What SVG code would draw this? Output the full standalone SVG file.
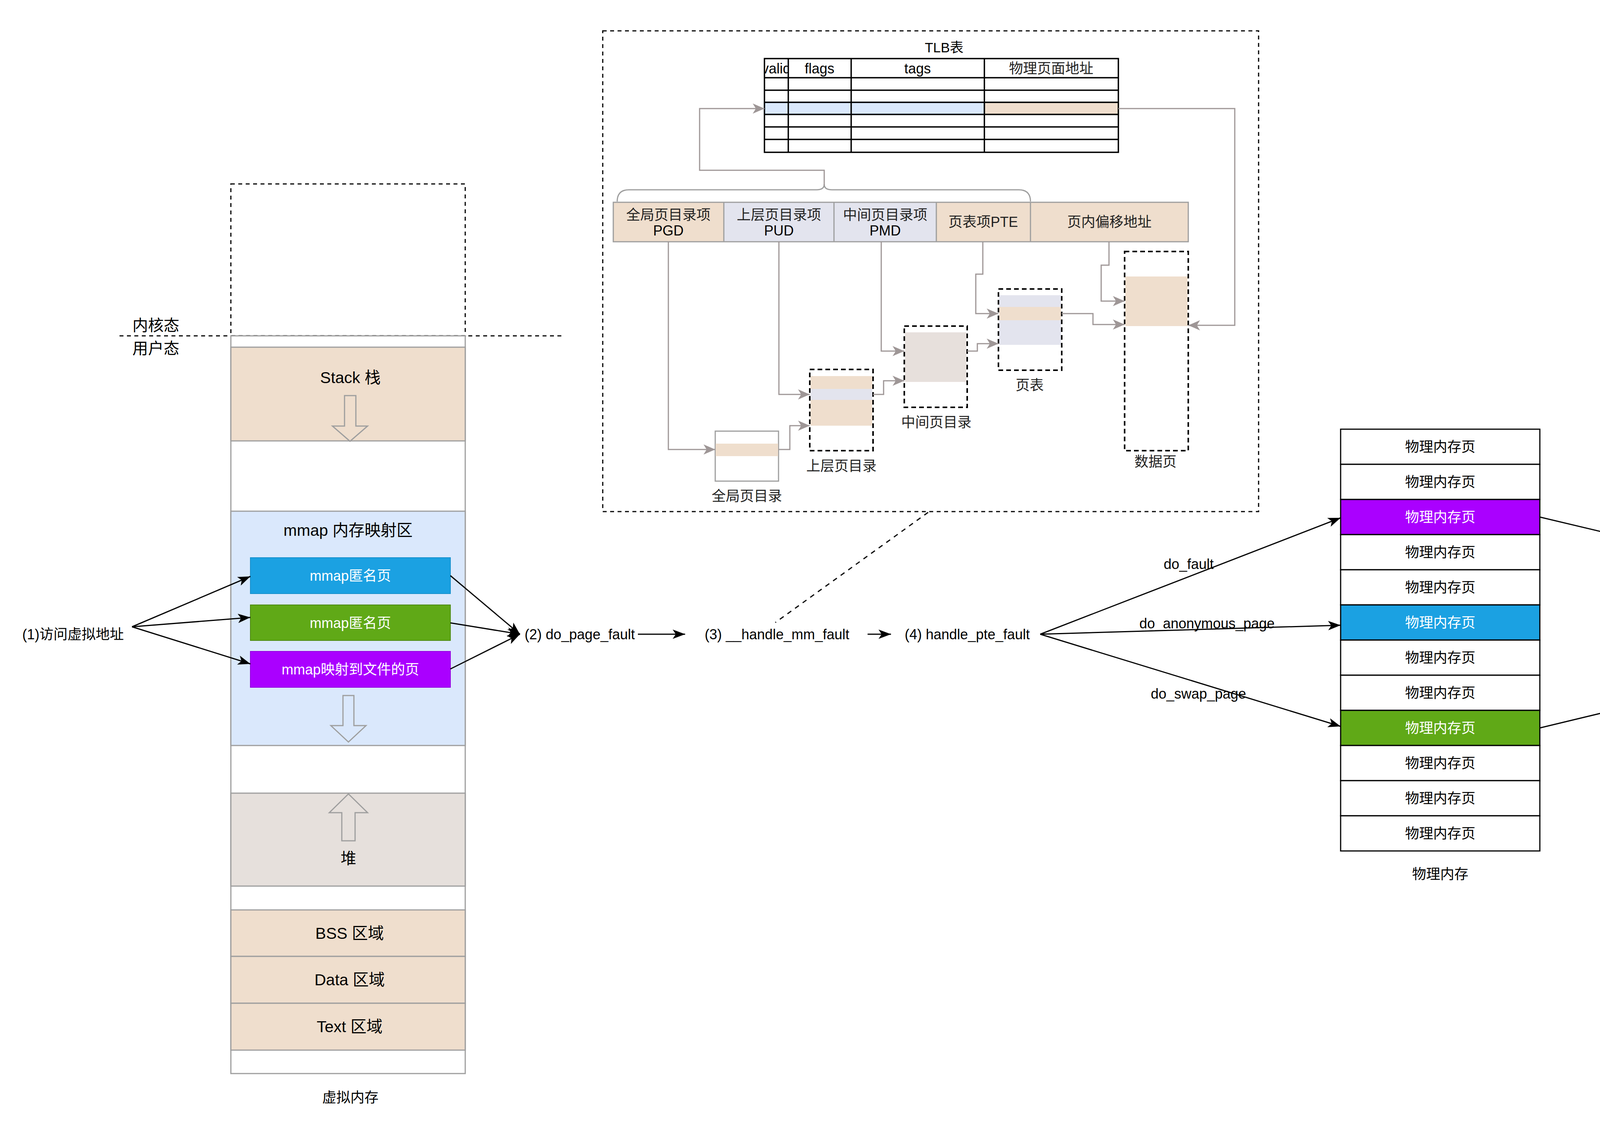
<svg xmlns="http://www.w3.org/2000/svg" width="4954" height="2891" viewBox="0 0 4954 2891">
<defs>
<style>
text{font-family:"Liberation Sans","Noto Sans CJK SC",sans-serif;font-size:36px;fill:#000;dominant-baseline:central;text-anchor:middle}
.big{font-size:41px}
.w{fill:#fff}
.l{text-anchor:start}
.g{fill:#222}
.col{stroke:#9e9e9e;stroke-width:3}
.beige{fill:#efdecd}
.dash{fill:none;stroke:#000;stroke-width:3;stroke-dasharray:10 9}
.dbox{fill:#fff;stroke:#000;stroke-width:4;stroke-dasharray:12 8}
.tb{fill:none;stroke:#000;stroke-width:3.5}
.pm{fill:#fff;stroke:#000;stroke-width:3}
.ga{fill:none;stroke:#9e9696;stroke-width:3;marker-end:url(#ag)}
.ba{fill:none;stroke:#000;stroke-width:3;marker-end:url(#ab)}
</style>
<marker id="ab" markerUnits="userSpaceOnUse" markerWidth="32" markerHeight="24" viewBox="0 0 32 24" refX="32" refY="12" orient="auto"><path d="M0,0 L32,12 L0,24 L8,12 z" fill="#000"/></marker>
<marker id="ag" markerUnits="userSpaceOnUse" markerWidth="30" markerHeight="26" viewBox="0 0 30 26" refX="30" refY="13" orient="auto"><path d="M0,0 L30,13 L0,26 L8,13 z" fill="#9e9696"/></marker>
<clipPath id="cv"><rect x="1957" y="150" width="61" height="49"/></clipPath>
</defs>
<rect width="4954" height="2891" fill="#fff"/>

<g id="kernel-space">
<rect x="591" y="471" width="600" height="389" class="dash"/>
<line x1="306" y1="860" x2="1443" y2="860" class="dash"/>
<text x="399" y="833" style="font-size:40px">内核态</text>
<text x="399" y="892" style="font-size:40px">用户态</text>
</g>

<g id="virtual-memory">
<rect x="591" y="860" width="600" height="1889" fill="#fff" class="col"/>
<rect x="591" y="889" width="600" height="240" class="beige col"/>
<text x="897" y="967" class="big">Stack 栈</text>
<path d="M882,1013 L911,1013 L911,1091 L941,1091 L896,1130 L851,1091 L882,1091 Z" fill="none" stroke="#9e9e9e" stroke-width="3"/>
<rect x="591" y="1309" width="600" height="600" fill="#dae8fc" class="col"/>
<text x="891" y="1358" class="big">mmap 内存映射区</text>
<path d="M878,1781 L906,1781 L906,1858 L937,1858 L892,1900 L847,1858 L878,1858 Z" fill="none" stroke="#9e9e9e" stroke-width="3"/>
<rect x="591" y="2031" width="600" height="238" fill="#e6e0dc" class="col"/>
<path d="M892,2033 L941,2081 L909,2081 L909,2153 L875,2153 L875,2081 L843,2081 Z" fill="none" stroke="#9e9e9e" stroke-width="3"/>
<text x="892" y="2198" style="font-size:40px">堆</text>
<rect x="591" y="2330" width="600" height="119" class="beige col"/>
<text x="895" y="2390" class="big">BSS 区域</text>
<rect x="591" y="2449" width="600" height="120" class="beige col"/>
<text x="895" y="2509" class="big">Data 区域</text>
<rect x="591" y="2569" width="600" height="120" class="beige col"/>
<text x="895" y="2629" class="big">Text 区域</text>
<text x="897" y="2810">虚拟内存</text>
</g>

<g id="mmap-anon-1"><rect x="641" y="1428" width="512" height="92" fill="#1ba1e2" stroke="#1790cc" stroke-width="2"/><text x="897" y="1474" class="w">mmap匿名页</text></g>
<g id="mmap-anon-2"><rect x="641" y="1549" width="512" height="91" fill="#60a917" stroke="#4d8a12" stroke-width="2"/><text x="897" y="1595" class="w">mmap匿名页</text></g>
<g id="mmap-file"><rect x="641" y="1668" width="512" height="92" fill="#aa00ff" stroke="#9400e0" stroke-width="2"/><text x="897" y="1714" class="w">mmap映射到文件的页</text></g>

<g id="label-1"><text x="57" y="1624" class="l">(1)访问虚拟地址</text></g>
<g id="label-2"><text x="1343" y="1624" class="l">(2) do_page_fault</text></g>
<g id="label-3"><text x="1804" y="1624" class="l">(3) __handle_mm_fault</text></g>
<g id="label-4"><text x="2316" y="1624" class="l">(4) handle_pte_fault</text></g>

<g id="tlb-frame">
<rect x="1543" y="79" width="1679" height="1231" class="dash"/>
<text x="2417" y="121" style="font-size:35px">TLB表</text>
</g>

<g id="tlb-table">
<rect x="1957" y="262" width="563" height="31" fill="#dae8fc" stroke="#4a9fd8" stroke-width="3"/>
<rect x="2520" y="262" width="343" height="31" class="beige" stroke="#6aa84f" stroke-width="3"/>
<rect x="1957" y="150" width="906" height="240" class="tb"/>
<path d="M1957,199 H2863 M1957,231 H2863 M1957,262 H2863 M1957,293 H2863 M1957,325 H2863 M1957,357 H2863 M2018,150 V390 M2179,150 V390 M2520,150 V390" class="tb"/>
<text x="1987" y="175" clip-path="url(#cv)">valid</text>
<text x="2098" y="175">flags</text>
<text x="2349" y="175">tags</text>
<text x="2691" y="175" class="g">物理页面地址</text>
</g>

<g id="address-bits">
<rect x="1570" y="518" width="283" height="101" class="beige"/>
<rect x="1853" y="518" width="282" height="101" fill="#e3e4ee"/>
<rect x="2135" y="518" width="262" height="101" fill="#e3e4ee"/>
<rect x="2397" y="518" width="241" height="101" class="beige"/>
<rect x="2638" y="518" width="404" height="101" class="beige"/>
<rect x="1570" y="518" width="1472" height="101" fill="none" class="col"/>
<path d="M1853,518 V619 M2135,518 V619 M2397,518 V619 M2638,518 V619" class="col"/>
<text x="1711" y="550" class="g">全局页目录项</text><text x="1711" y="590">PGD</text>
<text x="1994" y="550" class="g">上层页目录项</text><text x="1994" y="590">PUD</text>
<text x="2266" y="550" class="g">中间页目录项</text><text x="2266" y="590">PMD</text>
<text x="2517" y="568" class="g">页表项PTE</text>
<text x="2840" y="568" class="g">页内偏移地址</text>
<path d="M1580,516 Q1580,486 1610,486 L2090,486 Q2110,486 2110,472 Q2110,486 2130,486 L2608,486 Q2638,486 2638,516" fill="none" class="col"/>
</g>

<g id="pgd-table">
<rect x="1831" y="1104" width="162" height="128" fill="#fff" class="col"/>
<rect x="1832" y="1136" width="160" height="32" class="beige"/>
<text x="1912" y="1270" class="g">全局页目录</text>
</g>
<g id="pud-table">
<rect x="2073" y="946" width="162" height="208" class="dbox"/>
<rect x="2075" y="963" width="158" height="127" class="beige"/>
<rect x="2075" y="996" width="158" height="28" fill="#e3e4ee"/>
<text x="2154" y="1193" class="g">上层页目录</text>
</g>
<g id="pmd-table">
<rect x="2315" y="835" width="161" height="208" class="dbox"/>
<rect x="2317" y="851" width="157" height="127" fill="#e7e0dc"/>
<text x="2397" y="1081" class="g">中间页目录</text>
</g>
<g id="page-table">
<rect x="2556" y="740" width="162" height="208" class="dbox"/>
<rect x="2558" y="756" width="158" height="127" fill="#e3e4ee"/>
<rect x="2558" y="786" width="158" height="34" class="beige"/>
<text x="2636" y="986" class="g">页表</text>
</g>
<g id="data-page">
<rect x="2879" y="644" width="163" height="510" class="dbox"/>
<rect x="2881" y="708" width="159" height="127" class="beige"/>
<text x="2958" y="1182" class="g">数据页</text>
</g>

<g id="physical-memory">
<rect x="3432" y="1099" width="510" height="90" class="pm"/>
<rect x="3432" y="1189" width="510" height="90" class="pm"/>
<rect x="3432" y="1279" width="510" height="90" fill="#aa00ff" stroke="#000" stroke-width="3"/>
<rect x="3432" y="1369" width="510" height="90" class="pm"/>
<rect x="3432" y="1459" width="510" height="90" class="pm"/>
<rect x="3432" y="1549" width="510" height="90" fill="#1ba1e2" stroke="#000" stroke-width="3"/>
<rect x="3432" y="1639" width="510" height="90" class="pm"/>
<rect x="3432" y="1729" width="510" height="90" class="pm"/>
<rect x="3432" y="1819" width="510" height="90" fill="#60a917" stroke="#000" stroke-width="3"/>
<rect x="3432" y="1909" width="510" height="90" class="pm"/>
<rect x="3432" y="1999" width="510" height="90" class="pm"/>
<rect x="3432" y="2089" width="510" height="90" class="pm"/>
<text x="3687" y="1144">物理内存页</text>
<text x="3687" y="1234">物理内存页</text>
<text x="3687" y="1324" class="w">物理内存页</text>
<text x="3687" y="1414">物理内存页</text>
<text x="3687" y="1504">物理内存页</text>
<text x="3687" y="1594" class="w">物理内存页</text>
<text x="3687" y="1684">物理内存页</text>
<text x="3687" y="1774">物理内存页</text>
<text x="3687" y="1864" class="w">物理内存页</text>
<text x="3687" y="1954">物理内存页</text>
<text x="3687" y="2044">物理内存页</text>
<text x="3687" y="2134">物理内存页</text>
<text x="3687" y="2238">物理内存</text>
</g>

<g id="file-system">
<path d="M4242,1249 A330.5,105 0 0 1 4903,1249 L4903,1805 A330.5,105 0 0 1 4242,1805 Z" fill="#fff" stroke="#000" stroke-width="3"/>
<path d="M4242,1249 A330.5,105 0 0 0 4903,1249" fill="none" stroke="#000" stroke-width="3"/>
<text x="4573" y="1308">文件系统</text>
</g>
<g id="mapped-file"><rect x="4316" y="1368" width="513" height="92" fill="#aa00ff" stroke="#9400e0" stroke-width="2"/><text x="4573" y="1414" class="w">映射到内存的文件</text></g>
<g id="swap-file"><rect x="4316" y="1728" width="513" height="91" fill="#60a917" stroke="#4d8a12" stroke-width="2"/><text x="4572" y="1774" class="w">swap文件</text></g>

<g id="connectors">
<path d="M2110,475 L2110,436 L1791,436 L1791,278 L1957,278" class="ga"/>
<path d="M2863,278 L3161,278 L3161,833 L3042,833" class="ga"/>
<path d="M1711,619 L1711,1151 L1831,1151" class="ga"/>
<path d="M1993,1151 L2022,1151 L2022,1090 L2073,1090" class="ga"/>
<path d="M1994,619 L1994,1010 L2073,1010" class="ga"/>
<path d="M2235,1010 L2262,1010 L2262,975 L2315,975" class="ga"/>
<path d="M2256,619 L2256,899 L2315,899" class="ga"/>
<path d="M2476,899 L2502,899 L2502,880 L2556,880" class="ga"/>
<path d="M2516,619 L2516,702 L2498,702 L2498,803 L2556,803" class="ga"/>
<path d="M2718,803 L2798,803 L2798,831 L2879,831" class="ga"/>
<path d="M2839,619 L2839,679 L2819,679 L2819,771 L2879,771" class="ga"/>
<line x1="2376" y1="1312" x2="1985" y2="1594" stroke="#000" stroke-width="3" stroke-dasharray="12 12"/>
<path d="M338,1605 L641,1476" class="ba"/>
<path d="M338,1605 L641,1581" class="ba"/>
<path d="M338,1605 L641,1700" class="ba"/>
<path d="M1153,1474 L1331,1624" class="ba"/>
<path d="M1153,1595 L1331,1624" class="ba"/>
<path d="M1153,1713 L1331,1624" class="ba"/>
<path d="M1633,1624 L1754,1624" class="ba"/>
<path d="M2221,1624 L2281,1624" class="ba"/>
<path d="M2663,1624 L3432,1326" class="ba"/>
<path d="M2663,1624 L3432,1601" class="ba"/>
<path d="M2663,1624 L3432,1860" class="ba"/>
<path d="M3942,1324 L4316,1413" class="ba"/>
<path d="M3942,1864 L4316,1774" class="ba"/>
<text x="3043" y="1444">do_fault</text>
<text x="3090" y="1596">do_anonymous_page</text>
<text x="3068" y="1776">do_swap_page</text>
</g>
</svg>
